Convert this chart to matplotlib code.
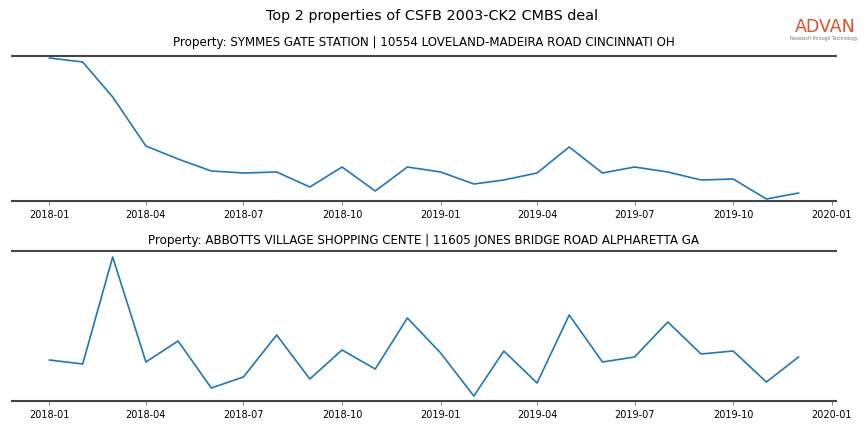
import pandas as pd
import matplotlib
matplotlib.use('Agg')
import matplotlib.pyplot as plt
import matplotlib.dates as mdates

# monthly visit counts
months = pd.date_range('2018-01-01', '2019-12-01', freq='MS')
symmes_visits = [143, 139, 104, 55, 42, 30, 28, 29, 14, 34, 10, 34,
                 29, 17, 21, 28, 54, 28, 34, 29, 21, 22, 2, 8]
abbotts_visits = [41, 37, 144, 39, 60, 13, 24, 66, 22, 51, 32, 83,
                  48, 5, 50, 18, 86, 39, 44, 79, 47, 50, 19, 44]
titles = ['Property: SYMMES GATE STATION | 10554 LOVELAND-MADEIRA ROAD CINCINNATI OH',
          'Property: ABBOTTS VILLAGE SHOPPING CENTE | 11605 JONES BRIDGE ROAD ALPHARETTA GA']

fig = plt.figure(figsize=(8.64, 4.32), dpi=100)
ax1 = fig.add_axes([12/864, 1 - 201/432, 824/864, 145/432])
ax2 = fig.add_axes([12/864, 1 - 401/432, 824/864, 150/432])

for ax, vals, ttl, ylim, pad in [(ax1, symmes_visits, titles[0], (0, 145), 7.5),
                                 (ax2, abbotts_visits, titles[1], (0, 150), 5.3)]:
    ax.plot(months, vals, color='#1f77b4', lw=1.2)
    ax.set_ylim(*ylim)
    ax.margins(x=0.05)
    ax.set_title(ttl, fontsize=8.6, pad=pad)
    ax.xaxis.set_major_locator(mdates.MonthLocator(bymonth=[1, 4, 7, 10]))
    ax.xaxis.set_major_formatter(mdates.DateFormatter('%Y-%m'))
    ax.tick_params(axis='x', labelsize=7, length=3, color='#888888')
    ax.set_yticks([])
    for s in ['left', 'right']:
        ax.spines[s].set_visible(False)
    for s in ['top', 'bottom']:
        ax.spines[s].set_color('#444444')
        ax.spines[s].set_linewidth(1.5)

fig.suptitle('Top 2 properties of CSFB 2003-CK2 CMBS deal', fontsize=10.4,
             y=1 - 16/432, va='center')

# logo
fig.text(825/864, 1 - 27/432, 'ADVAN', color='#e0502a', fontsize=12.5,
         fontweight='medium', ha='center', va='center')
fig.text(824/864, 1 - 38.5/432, 'Research through Technology', color='#777777',
         fontsize=3.3, ha='center', va='center')

plt.savefig('out.png', dpi=100)
